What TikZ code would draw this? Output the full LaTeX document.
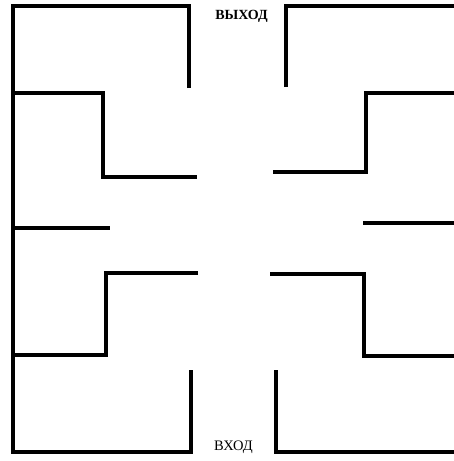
\documentclass[tikz,border=0pt]{standalone}
\usepackage{fontspec}
\setmainfont{Liberation Serif}
\begin{document}
\begin{tikzpicture}[x=1pt,y=-1pt,wall/.style={line width=4pt,line cap=butt,line join=miter},lbl/.style={inner sep=0pt,anchor=base,font=\fontsize{14.5}{16}\selectfont}]
\useasboundingbox (0,0) rectangle (454,461);
% left side
\draw[wall] (189,88) -- (189,6) -- (13,6) -- (13,452) -- (191,452) -- (191,370);
\draw[wall] (13,93) -- (103,93) -- (103,177) -- (197,177);
\draw[wall] (13,228) -- (110,228);
\draw[wall] (198,273) -- (106,273) -- (106,355) -- (13,355);
% right side
\draw[wall] (286,87) -- (286,6) -- (454,6);
\draw[wall] (454,93) -- (366,93) -- (366,172) -- (273,172);
\draw[wall] (363,223) -- (454,223);
\draw[wall] (270,274) -- (364,274) -- (364,356) -- (454,356);
\draw[wall] (276,370) -- (276,452) -- (454,452);
% labels
\node[lbl,font=\bfseries\fontsize{14}{16}\selectfont] (exit) at (241.5,19.5) {ВЫХОД};
\node[lbl] (entry) at (233.5,450.5) {ВХОД};
\end{tikzpicture}
\end{document}
